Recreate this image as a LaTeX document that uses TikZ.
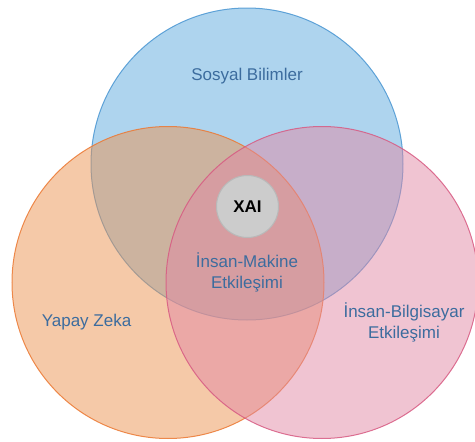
\documentclass[tikz,border=0pt]{standalone}
\usepackage{fontspec}
\setmainfont{Liberation Sans}
\definecolor{cblue}{RGB}{93,169,221}
\definecolor{cbluedraw}{RGB}{74,150,210}
\definecolor{corange}{RGB}{235,147,81}
\definecolor{corangedraw}{RGB}{236,120,50}
\definecolor{cpink}{RGB}{225,137,165}
\definecolor{cpinkdraw}{RGB}{215,90,130}
\definecolor{ctext}{RGB}{60,108,158}
\definecolor{cgray}{RGB}{204,204,204}
\definecolor{cgraydraw}{RGB}{185,185,185}
\begin{document}
\begin{tikzpicture}[x=1pt,y=-1pt,
  setcircle/.style={circle,minimum size=312pt,inner sep=0pt,fill opacity=0.5,draw opacity=0.85,line width=1pt},
  lbl/.style={text=ctext,font=\fontsize{17}{21}\selectfont,align=center,inner sep=0pt}]
\useasboundingbox (0,0) rectangle (475,442);
\node[setcircle,fill=cblue,draw=cbluedraw] (blue) at (247,164) {};
\node[setcircle,fill=corange,draw=corangedraw] (orange) at (168,282.5) {};
\node[setcircle,fill=cpink,draw=cpinkdraw] (pink) at (322,282.5) {};
\node[circle,minimum size=62pt,inner sep=0pt,fill=cgray,draw=cgraydraw,line width=1pt,font=\fontsize{17}{19}\selectfont\bfseries] (xai) at (247.5,206.5) {XAI};
\node[lbl] (sb) at (247,76) {Sosyal Bilimler};
\node[lbl] (hm) at (247,272.5) {İnsan-Makine\\Etkileşimi};
\node[lbl] (yz) at (86.5,322) {Yapay Zeka};
\node[lbl] (hb) at (404,322.5) {İnsan-Bilgisayar\\Etkileşimi};
\end{tikzpicture}
\end{document}
